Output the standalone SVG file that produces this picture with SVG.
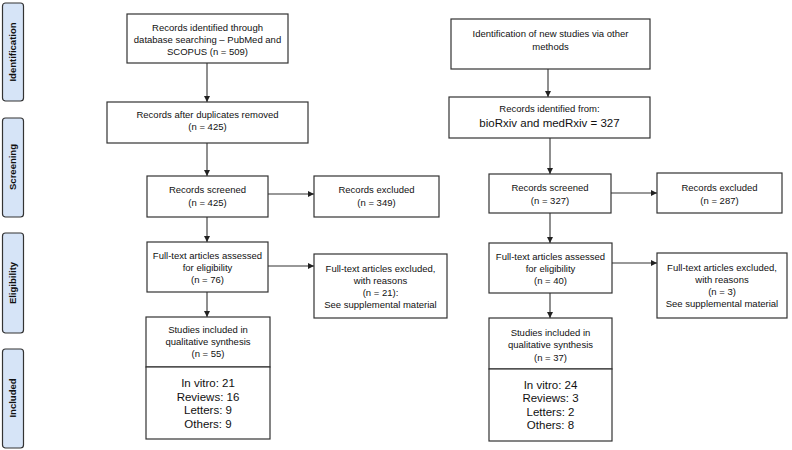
<svg xmlns="http://www.w3.org/2000/svg" width="792" height="450" viewBox="0 0 792 450">
<defs>
<marker id="ah" viewBox="0 0 10 10" refX="10" refY="5" markerWidth="6" markerHeight="6" orient="auto" markerUnits="userSpaceOnUse">
<path d="M0,0 L10,5 L0,10 z" fill="#222"/>
</marker>
<style>
.bx{fill:#fff;stroke:#333;stroke-width:1.2}
.ph{fill:#d6e4f7;stroke:#333;stroke-width:1.2}
.t{font-family:"Liberation Sans",Arial,sans-serif;font-size:9.5px;fill:#111;text-anchor:middle}
.a{font-family:"Liberation Sans",Arial,sans-serif;font-size:11.5px;fill:#111;text-anchor:middle}
.pt{font-family:"Liberation Sans",Arial,sans-serif;font-size:9.5px;font-weight:bold;fill:#111;text-anchor:middle}
.c{stroke:#333;stroke-width:1.1;fill:none;marker-end:url(#ah)}
</style>
</defs>
<g id="phases">
<g id="ph-identification"><rect class="ph" x="2.5" y="3" width="21" height="98" rx="3"/><text class="pt" transform="translate(16,52) rotate(-90)">Identification</text></g>
<g id="ph-screening"><rect class="ph" x="2.5" y="118" width="21" height="99" rx="3"/><text class="pt" transform="translate(16,167) rotate(-90)">Screening</text></g>
<g id="ph-eligibility"><rect class="ph" x="2.5" y="233" width="21" height="100" rx="3"/><text class="pt" transform="translate(16,283) rotate(-90)">Eligibility</text></g>
<g id="ph-included"><rect class="ph" x="2.5" y="349" width="21" height="99" rx="3"/><text class="pt" transform="translate(16,398) rotate(-90)">Included</text></g>
</g>
<g id="connectors">
<line class="c" x1="207" y1="63" x2="207" y2="102"/>
<line class="c" x1="207" y1="143" x2="207" y2="176"/>
<line class="c" x1="207" y1="217" x2="207" y2="242"/>
<line class="c" x1="207" y1="292" x2="207" y2="317"/>
<line class="c" x1="268" y1="194" x2="314" y2="194"/>
<line class="c" x1="268" y1="266" x2="314" y2="266"/>
<line class="c" x1="548" y1="69" x2="548" y2="97"/>
<line class="c" x1="550" y1="138" x2="550" y2="174"/>
<line class="c" x1="550" y1="213" x2="550" y2="243"/>
<line class="c" x1="550" y1="293" x2="550" y2="318"/>
<line class="c" x1="611" y1="193" x2="657" y2="193"/>
<line class="c" x1="612" y1="263" x2="657" y2="263"/>
</g>
<g id="n-db"><rect class="bx" x="127" y="14" width="161" height="49"/>
<text class="t" x="207.5" y="30.5">Records identified through</text>
<text class="t" x="207.5" y="42.5">database searching – PubMed and</text>
<text class="t" x="207.5" y="55">SCOPUS (n = 509)</text></g>
<g id="n-dup"><rect class="bx" x="107" y="102" width="201" height="41"/>
<text class="t" x="207.5" y="118">Records after duplicates removed</text>
<text class="t" x="207.5" y="130">(n = 425)</text></g>
<g id="n-scr-l"><rect class="bx" x="147" y="176" width="121" height="41"/>
<text class="t" x="207.5" y="193">Records screened</text>
<text class="t" x="207.5" y="206">(n = 425)</text></g>
<g id="n-exc-l"><rect class="bx" x="314" y="176" width="125" height="41"/>
<text class="t" x="376.5" y="193">Records excluded</text>
<text class="t" x="376.5" y="206">(n = 349)</text></g>
<g id="n-ft-l"><rect class="bx" x="147" y="242" width="121" height="50"/>
<text class="t" x="207.5" y="259">Full-text articles assessed</text>
<text class="t" x="207.5" y="271">for eligibility</text>
<text class="t" x="207.5" y="283">(n = 76)</text></g>
<g id="n-ftx-l"><rect class="bx" x="314" y="254" width="133" height="64"/>
<text class="t" x="380.5" y="272">Full-text articles excluded,</text>
<text class="t" x="380.5" y="284">with reasons</text>
<text class="t" x="380.5" y="296">(n = 21):</text>
<text class="t" x="380.5" y="308">See supplemental material</text></g>
<g id="n-inc-l"><rect class="bx" x="146" y="317" width="124" height="50"/>
<text class="t" x="208" y="333">Studies included in</text>
<text class="t" x="208" y="345">qualitative synthesis</text>
<text class="t" x="208" y="357">(n = 55)</text>
<rect class="bx" x="146" y="367" width="124" height="72"/>
<text class="a" x="208" y="387">In vitro: 21</text>
<text class="a" x="208" y="401">Reviews:  16</text>
<text class="a" x="208" y="414">Letters: 9</text>
<text class="a" x="208" y="428">Others: 9</text></g>
<g id="n-other"><rect class="bx" x="451" y="19" width="199" height="50"/>
<text class="t" x="550.5" y="37">Identification of new studies via other</text>
<text class="t" x="550.5" y="50">methods</text></g>
<g id="n-rxiv"><rect class="bx" x="449" y="97" width="201" height="41"/>
<text class="t" x="549.5" y="112">Records identified from:</text>
<text class="a" x="549.5" y="127">bioRxiv and medRxiv = 327</text></g>
<g id="n-scr-r"><rect class="bx" x="489" y="174" width="122" height="39"/>
<text class="t" x="550" y="191">Records screened</text>
<text class="t" x="550" y="204">(n = 327)</text></g>
<g id="n-exc-r"><rect class="bx" x="657" y="173" width="125" height="40"/>
<text class="t" x="719.5" y="191">Records excluded</text>
<text class="t" x="719.5" y="204">(n = 287)</text></g>
<g id="n-ft-r"><rect class="bx" x="489" y="243" width="123" height="50"/>
<text class="t" x="550.5" y="260">Full-text articles assessed</text>
<text class="t" x="550.5" y="272">for eligibility</text>
<text class="t" x="550.5" y="284">(n = 40)</text></g>
<g id="n-ftx-r"><rect class="bx" x="657" y="253" width="130" height="65"/>
<text class="t" x="722" y="271">Full-text articles excluded,</text>
<text class="t" x="722" y="283">with reasons</text>
<text class="t" x="722" y="295">(n = 3)</text>
<text class="t" x="722" y="307">See supplemental material</text></g>
<g id="n-inc-r"><rect class="bx" x="489" y="318" width="123" height="51"/>
<text class="t" x="550.5" y="336">Studies included in</text>
<text class="t" x="550.5" y="348">qualitative synthesis</text>
<text class="t" x="550.5" y="361">(n = 37)</text>
<rect class="bx" x="489" y="369" width="123" height="72"/>
<text class="a" x="550.5" y="389">In vitro: 24</text>
<text class="a" x="550.5" y="402">Reviews: 3</text>
<text class="a" x="550.5" y="416">Letters: 2</text>
<text class="a" x="550.5" y="429">Others: 8</text></g>
</svg>
